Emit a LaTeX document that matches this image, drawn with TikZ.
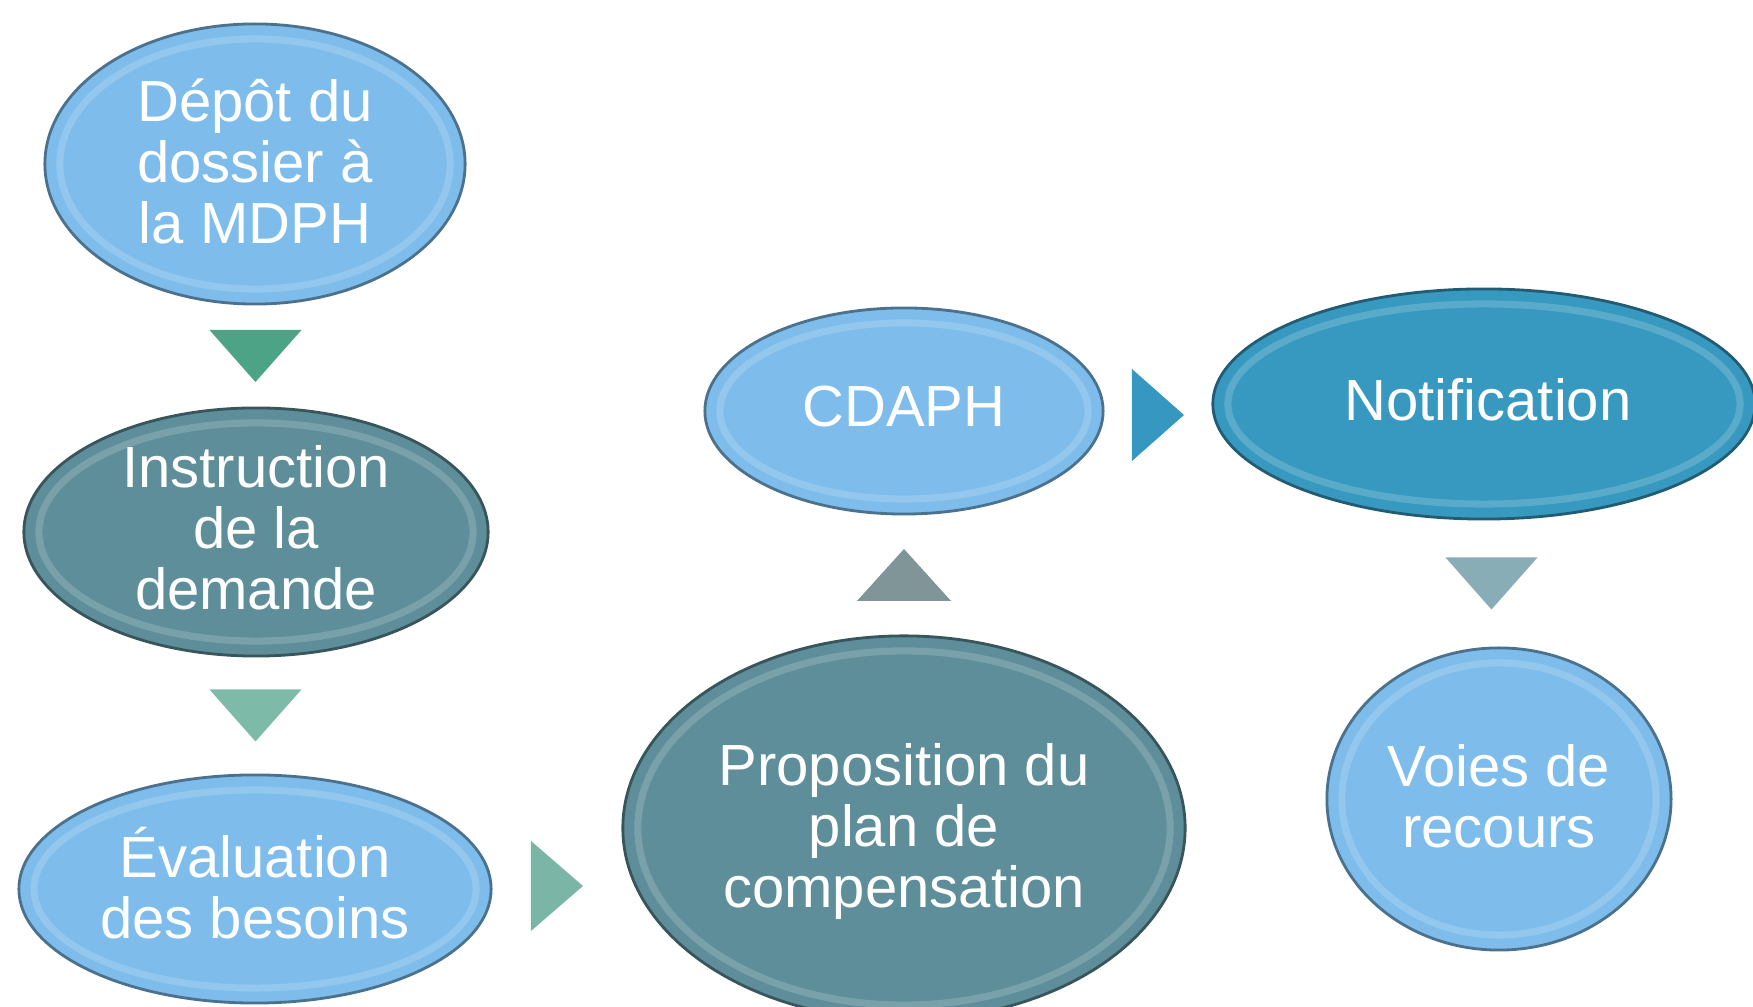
\documentclass[tikz,border=0pt]{standalone}
\usepackage{fontspec}
\setmainfont{Liberation Sans}
\usetikzlibrary{calc}
\usetikzlibrary{positioning}
\usetikzlibrary{shapes.geometric}

\definecolor{bleuclair}{HTML}{7DBCEB}
\definecolor{sarcelle}{HTML}{5E8E99}
\definecolor{bleu}{HTML}{3899C0}
\definecolor{vert}{HTML}{4CA386}
\definecolor{vertclair}{HTML}{7DBAA8}
\definecolor{vertgris}{HTML}{7BB5A6}
\definecolor{gris}{HTML}{7F9597}
\definecolor{bleuvif}{HTML}{3698C1}
\definecolor{grisbleu}{HTML}{88ADB6}

\tikzset{
    bulle/.style={ellipse, fill=#1, draw=#1!60!black, line width=0.8pt, inner sep=0pt,
        path picture={
            \draw[#1!50!white, line width=2pt, opacity=0.35]
                let \p1=(path picture bounding box.north east),
                    \p2=(path picture bounding box.center) in
                (\p2) ellipse [x radius={\x1-\x2-0.15cm}, y radius={\y1-\y2-0.15cm}];
        }},
    texte/.style={text=white, align=center, font=\fontsize{16.5}{17.4}\selectfont},
}

\begin{document}
\begin{tikzpicture}[x=0.01cm, y=-0.01cm]
    \clip (0,0) rectangle (1753,1007);

    % Bulles
    \node[bulle=bleuclair, minimum width=4.2cm, minimum height=2.8cm] (depot) at (255,164) {};
    \node[bulle=sarcelle, minimum width=4.64cm, minimum height=2.48cm] (instr) at (256,532) {};
    \node[bulle=bleuclair, minimum width=4.72cm, minimum height=2.28cm] (eval) at (255,889) {};
    \node[bulle=sarcelle, minimum width=5.62cm, minimum height=3.84cm] (prop) at (904,828) {};
    \node[bulle=bleuclair, minimum width=3.98cm, minimum height=2.06cm] (cdaph) at (904,411) {};
    \node[bulle=bleu, minimum width=5.42cm, minimum height=2.3cm] (notif) at (1484,404) {};
    \node[bulle=bleuclair, minimum width=3.44cm, minimum height=3.02cm] (recours) at (1499,799) {};

    % Textes
    \node[texte] (depot-t) at ([yshift=0.025cm]depot) {Dépôt du\\dossier à\\la MDPH};
    \node[texte] (instr-t) at ([yshift=0.04cm]instr) {Instruction\\de la\\demande};
    \node[texte] (eval-t) at ([yshift=0.06cm]eval) {Évaluation\\des besoins};
    \node[texte] (prop-t) at ([yshift=-0.035cm]prop) {Proposition du\\plan de\\compensation};
    \node[texte] (cdaph-t) at ([yshift=0.04cm]cdaph) {CDAPH};
    \node[texte] (notif-t) at ([xshift=0.04cm,yshift=0.04cm]notif) {Notification};
    \node[texte] (recours-t) at ([yshift=0.03cm]recours) {Voies de\\recours};

    % Flèches
    \path (depot.south) -- (instr.north) coordinate[midway] (f1);
    \fill[vert] (f1) ++(-46,-26) -- ++(92,0) -- ++(-46,52) -- cycle;

    \path (instr.south) -- (eval.north) coordinate[midway] (f2);
    \fill[vertclair] (f2) ++(-46,-26) -- ++(92,0) -- ++(-46,52) -- cycle;

    \path (eval.east) -- (prop.west |- eval.east) coordinate[midway] (f3);
    \fill[vertgris] (f3) ++(-26,-48) -- ++(0,90) -- ++(52,-45) -- cycle;

    \path (prop.north) -- (cdaph.south) coordinate[midway] (f4);
    \fill[gris] (f4) ++(-47,26) -- ++(94,0) -- ++(-47,-52) -- cycle;

    \path (cdaph.east) -- (cdaph.east -| notif.west) coordinate[midway] (f5);
    \fill[bleuvif] (f5) ++(-26,-42) -- ++(0,92) -- ++(52,-46) -- cycle;

    \path (notif.south) -- (recours.north) coordinate[midway] (f6);
    \fill[grisbleu] (f6) ++(-46,-26) -- ++(92,0) -- ++(-46,52) -- cycle;
\end{tikzpicture}
\end{document}
